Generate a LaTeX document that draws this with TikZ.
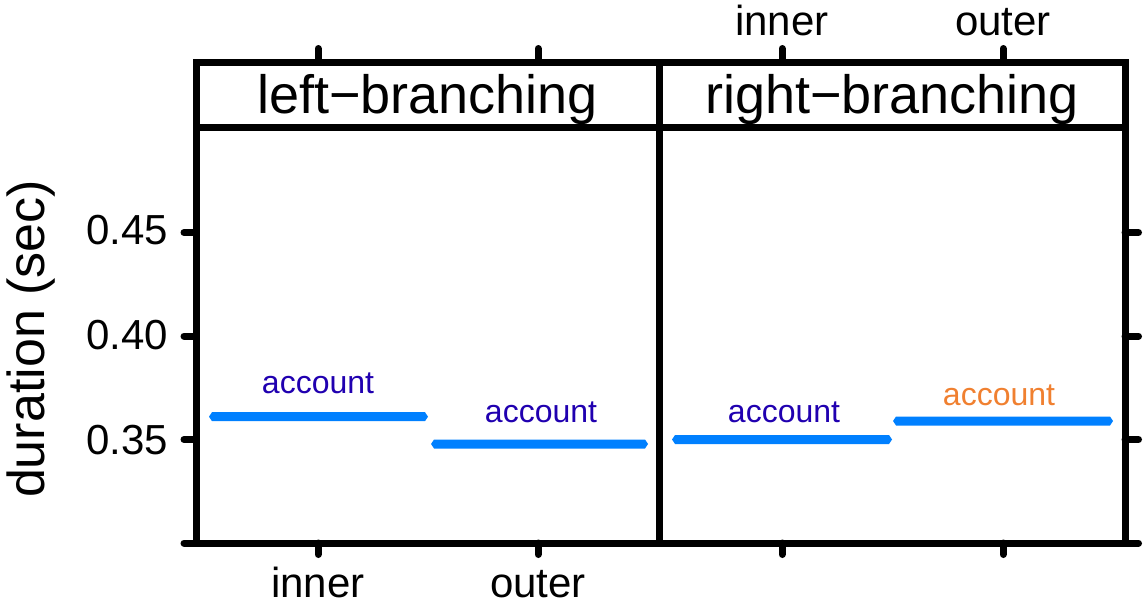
\documentclass[tikz,border=0pt]{standalone}
\usepackage{fontspec}
\setmainfont{Liberation Sans}
\definecolor{segblue}{RGB}{0,128,255}
\definecolor{labblue}{RGB}{32,0,176}
\definecolor{laborange}{RGB}{240,128,48}
\begin{document}
\begin{tikzpicture}[x=1pt,y=-1pt,
  frame/.style={line width=7pt,black},
  tickmark/.style={line width=7pt,line cap=round,black},
  ticklab/.style={font=\fontsize{42}{42}\selectfont,inner sep=0pt},
  striplab/.style={font=\fontsize{54}{54}\selectfont,inner sep=0pt,anchor=base},
  seglab/.style={font=\fontsize{32}{32}\selectfont,inner sep=0pt,anchor=base},
  segbar/.style={fill=segblue}
  ]
\useasboundingbox (0,0) rectangle (1144,605);
% frame
\draw[frame] (196,62) rectangle (1125,543);
\draw[frame] (196,127) -- (1125,127);
\draw[frame] (659,62) -- (659,543);
% ticks
\foreach \y in {543,439.5,336,232.5} {
  \draw[tickmark] (196,\y) -- (184,\y);
  \draw[tickmark] (1125,\y) -- (1138.5,\y);
}
\foreach \x in {318,538,782,1003} {
  \draw[tickmark] (\x,62) -- (\x,48.5);
  \draw[tickmark] (\x,543) -- (\x,554.5);
}
% tick labels
\node[ticklab,anchor=east] (y45) at (168,230) {0.45};
\node[ticklab,anchor=east] (y40) at (168,335) {0.40};
\node[ticklab,anchor=east] (y35) at (168,440) {0.35};
\node[ticklab,anchor=base] (xinL) at (318,597) {inner};
\node[ticklab,anchor=base] (xoutL) at (538,597) {outer};
\node[ticklab,anchor=base] (xinR) at (782,35) {inner};
\node[ticklab,anchor=base] (xoutR) at (1003,35) {outer};
% axis title
\node[font=\fontsize{52}{52}\selectfont,inner sep=0pt,anchor=base,rotate=90] (ytitle) at (45,339) {duration (sec)};
% strip labels
\node[striplab] (stripL) at (427.5,113) {left−branching};
\node[striplab] (stripR) at (892,113) {right−branching};
% segments
\fill[segbar] (209,416.7) -- (212,412.2) -- (425,412.2) -- (428,416.7) -- (425,421.2) -- (212,421.2) -- cycle;
\fill[segbar] (431,444) -- (434,439.5) -- (645,439.5) -- (648,444) -- (645,448.5) -- (434,448.5) -- cycle;
\fill[segbar] (672,439.5) -- (675,435) -- (889,435) -- (892,439.5) -- (889,444) -- (675,444) -- cycle;
\fill[segbar] (893,421) -- (896,416.5) -- (1110,416.5) -- (1113,421) -- (1110,425.5) -- (896,425.5) -- cycle;
% segment labels
\node[seglab,text=labblue] (a1) at (318,393) {account};
\node[seglab,text=labblue] (a2) at (541,422) {account};
\node[seglab,text=labblue] (a3) at (784,422) {account};
\node[seglab,text=laborange] (a4) at (999,405) {account};
\end{tikzpicture}
\end{document}
